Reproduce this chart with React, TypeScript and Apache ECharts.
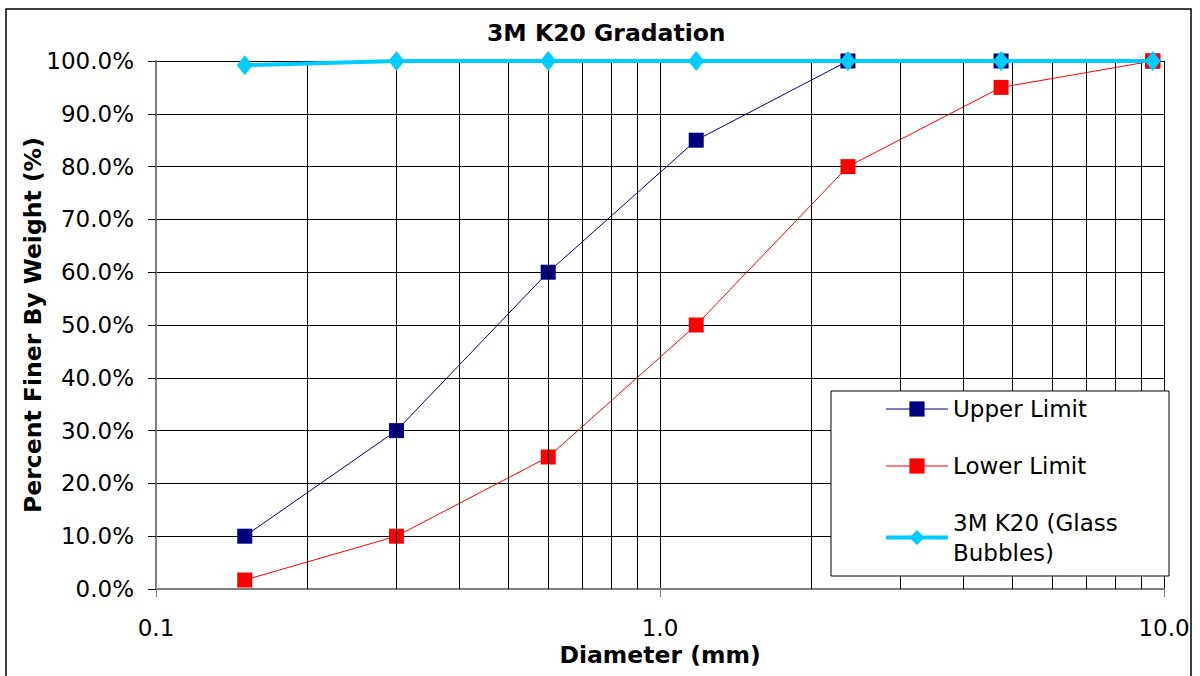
import React, { useEffect, useRef } from "react";
import * as echarts from "echarts";

const sieveSizes = [0.15, 0.3, 0.6, 1.18, 2.36, 4.75, 9.5];
const upperLimit = [10, 30, 60, 85, 100, 100, 100];
const lowerLimit = [1.7, 10, 25, 50, 80, 95, 100];
const k20 = [99.2, 100, 100, 100, 100, 100, 100];
const minorGrid = [0.2, 0.3, 0.4, 0.5, 0.6, 0.7, 0.8, 0.9, 2, 3, 4, 5, 6, 7, 8, 9];
const seriesNames = ["Upper Limit", "Lower Limit", "3M K20 (Glass Bubbles)"];

const FONT = "'DejaVu Sans', Verdana, sans-serif";

export default function App() {
  const ref = useRef<HTMLDivElement>(null);
  useEffect(() => {
    document.body.style.margin = "0";
    const chart = echarts.init(ref.current!, undefined, { renderer: "svg" });
    const pts = (ys: number[]) => sieveSizes.map((x, i) => [x, ys[i]]);
    chart.setOption({
      animation: false,
      backgroundColor: "#ffffff",
      textStyle: { fontFamily: FONT },
      title: {
        text: "3M K20 Gradation",
        left: 482,
        top: 16,
        textStyle: { fontFamily: FONT, fontSize: 23.5, fontWeight: "bold", color: "#000" },
      },
      grid: { left: 156, top: 61, width: 1008, height: 528, containLabel: false },
      xAxis: {
        type: "log",
        logBase: 10,
        min: 0.1,
        max: 10,
        name: "Diameter (mm)",
        nameLocation: "middle",
        nameGap: 54,
        nameMoveOverlap: false,
        nameTextStyle: { fontFamily: FONT, fontSize: 23.5, fontWeight: "bold", color: "#000" },
        axisLine: { show: true, onZero: false, lineStyle: { color: "#808080", width: 2 } },
        axisTick: { show: true, inside: false, length: 8, lineStyle: { color: "#808080", width: 1 } },
        axisLabel: {
          fontFamily: FONT,
          fontSize: 23,
          color: "#000",
          margin: 27,
          formatter: (v: number) => (v < 0.5 ? "0.1" : v.toFixed(1)),
        },
        splitLine: { show: true, lineStyle: { color: "#000", width: 1 } },
        minorTick: { show: false },
      },
      yAxis: {
        type: "value",
        min: 0,
        max: 100,
        interval: 10,
        name: "Percent Finer By Weight (%)",
        nameLocation: "middle",
        nameGap: 111,
        nameMoveOverlap: false,
        nameTextStyle: { fontFamily: FONT, fontSize: 23.5, fontWeight: "bold", color: "#000" },
        axisLine: { show: true, lineStyle: { color: "#808080", width: 2 } },
        axisTick: { show: true, inside: false, length: 8, lineStyle: { color: "#000", width: 1 } },
        axisLabel: {
          fontFamily: FONT,
          fontSize: 23,
          color: "#000",
          margin: 22,
          formatter: (v: number) => v.toFixed(1) + "%",
        },
        splitLine: { show: true, lineStyle: { color: "#000", width: 1 } },
      },
      legend: {
        orient: "vertical",
        left: 879,
        top: 392,
        itemWidth: 62,
        itemHeight: 19,
        itemGap: 33,
        z: 10,
        lineStyle: { width: 1 },
        textStyle: { fontFamily: FONT, fontSize: 23, lineHeight: 24, color: "#000" },
        formatter: (name: string) => (name === seriesNames[2] ? "3M K20 (Glass\nBubbles)" : name),
        data: [
          { name: seriesNames[0] },
          { name: seriesNames[1] },
          {
            name: seriesNames[2],
            lineStyle: { width: 4 },
            textStyle: { lineHeight: 30, padding: [0, 0, -30, 0] },
          },
        ],
      },
      graphic: [
        {
          type: "rect",
          z: 8,
          shape: { x: 831, y: 391, width: 338, height: 185 },
          style: { fill: "#ffffff", stroke: "#000", lineWidth: 1 },
        },
        {
          type: "rect",
          z: 0,
          silent: true,
          shape: { x: 6, y: 9, width: 1185, height: 700 },
          style: { fill: "none", stroke: "#000", lineWidth: 1.5 },
        },
      ],
      series: [
        {
          type: "line",
          name: "minor-grid",
          data: [],
          z: 1,
          silent: true,
          markLine: {
            silent: true,
            symbol: "none",
            label: { show: false },
            lineStyle: { color: "#000", width: 1, type: "solid" },
            data: minorGrid.map((v) => ({ xAxis: v })),
          },
        },
        {
          type: "line",
          name: seriesNames[0],
          data: pts(upperLimit),
          symbol: "rect",
          symbolSize: 15,
          color: "#000080",
          lineStyle: { color: "#000080", width: 1 },
          itemStyle: { color: "#000080" },
          z: 3,
        },
        {
          type: "line",
          name: seriesNames[1],
          data: pts(lowerLimit),
          symbol: "rect",
          symbolSize: 15,
          color: "#ff0000",
          lineStyle: { color: "#ff0000", width: 1 },
          itemStyle: { color: "#ff0000" },
          z: 4,
        },
        {
          type: "line",
          name: seriesNames[2],
          data: pts(k20),
          symbol: "diamond",
          symbolSize: [16, 20],
          color: "#00ccff",
          lineStyle: { color: "#00ccff", width: 4 },
          itemStyle: { color: "#00ccff" },
          z: 5,
        },
      ],
    });
    return () => chart.dispose();
  }, []);
  return <div ref={ref} style={{ width: 1200, height: 676 }} />;
}
